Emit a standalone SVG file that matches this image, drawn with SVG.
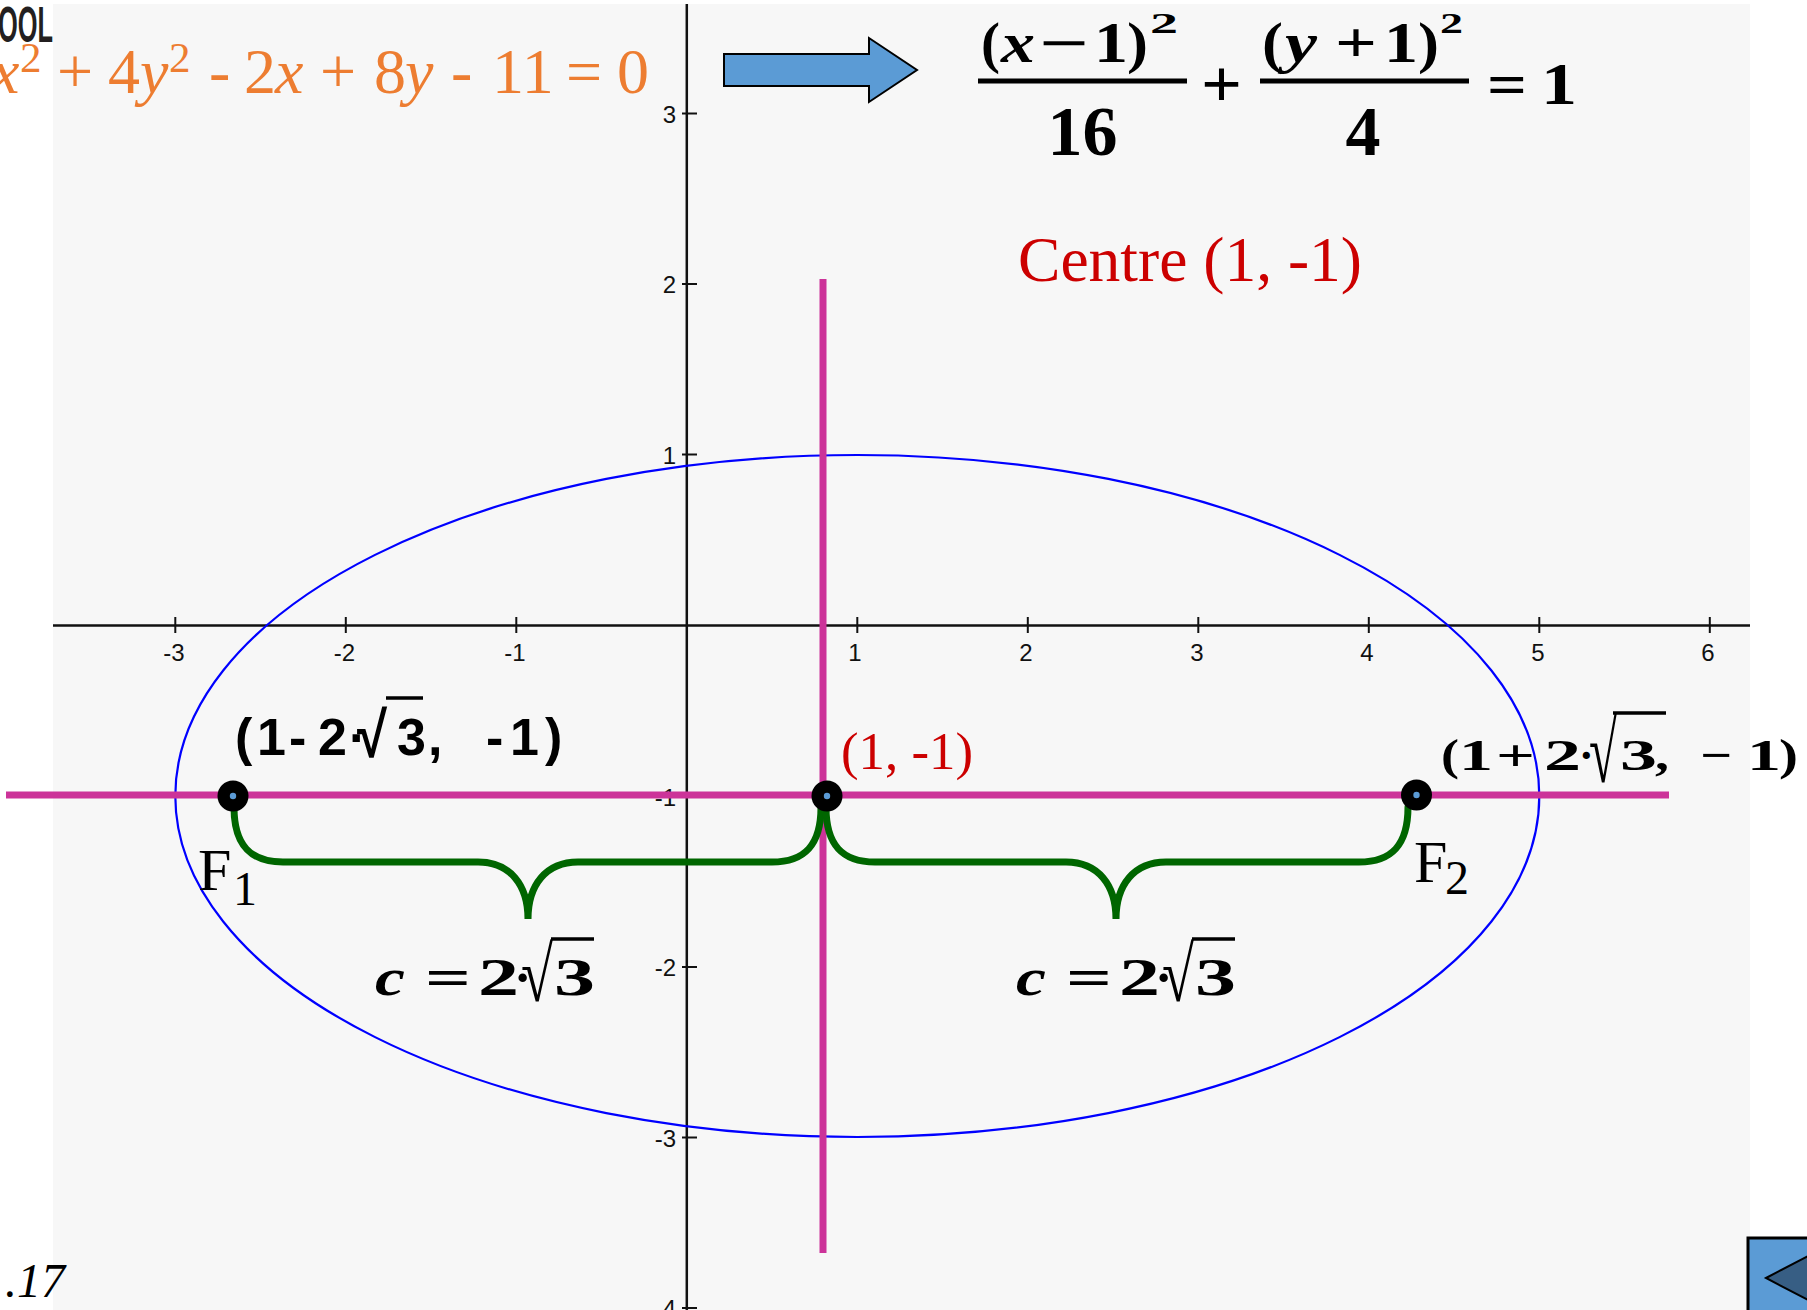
<svg xmlns="http://www.w3.org/2000/svg" width="1807" height="1310" viewBox="0 0 1807 1310">
<style>
.serif{font-family:"Liberation Serif","Times New Roman",serif}
.sans{font-family:"Liberation Sans",Arial,sans-serif}
.b{font-weight:bold}
.i{font-style:italic}
.axis{stroke:#111;stroke-width:2.5}
.tick{stroke:#111;stroke-width:2}
.lab{font-family:"Liberation Sans",Arial,sans-serif;font-size:24px;fill:#111}
.xl{text-anchor:middle}
.yl{text-anchor:end}
.mag{stroke:#CC3399;stroke-width:7}
.brace{fill:none;stroke:#006600;stroke-width:7;stroke-linecap:round}
.bar{fill:#000}
.ovl{stroke:#000;stroke-width:3.5}
</style>
<defs>
<g id="pt"><circle r="15.5" fill="#000"/><circle r="3.2" fill="#5B9BD5"/></g>
</defs>
<rect width="1807" height="1310" fill="#FFFFFF"/>
<rect x="53" y="4" width="1697" height="1306" fill="#F7F7F7"/>

<g id="axes">
<line class="axis" x1="53" y1="625.5" x2="1750" y2="625.5"/>
<line class="axis" x1="686.8" y1="4" x2="686.8" y2="1310"/>
<g class="tick">
<line x1="175.3" y1="617" x2="175.3" y2="633"/><line x1="345.8" y1="617" x2="345.8" y2="633"/><line x1="516.3" y1="617" x2="516.3" y2="633"/>
<line x1="857.3" y1="617" x2="857.3" y2="633"/><line x1="1027.8" y1="617" x2="1027.8" y2="633"/><line x1="1198.3" y1="617" x2="1198.3" y2="633"/>
<line x1="1368.8" y1="617" x2="1368.8" y2="633"/><line x1="1539.3" y1="617" x2="1539.3" y2="633"/><line x1="1709.8" y1="617" x2="1709.8" y2="633"/>
<line x1="682" y1="113.5" x2="697" y2="113.5"/><line x1="682" y1="284" x2="697" y2="284"/><line x1="682" y1="454.5" x2="697" y2="454.5"/>
<line x1="682" y1="796.5" x2="697" y2="796.5"/><line x1="682" y1="967" x2="697" y2="967"/><line x1="682" y1="1137.5" x2="697" y2="1137.5"/><line x1="682" y1="1308" x2="697" y2="1308"/>
</g>
<g class="lab xl">
<text x="174" y="661">-3</text><text x="344.5" y="661">-2</text><text x="515" y="661">-1</text>
<text x="855" y="661">1</text><text x="1026" y="661">2</text><text x="1197" y="661">3</text>
<text x="1367" y="661">4</text><text x="1538" y="661">5</text><text x="1708" y="661">6</text>
</g>
<g class="lab yl">
<text x="676" y="122.5">3</text><text x="676" y="293">2</text><text x="676" y="463.5">1</text>
<text x="676" y="805.5">-1</text><text x="676" y="976">-2</text><text x="676" y="1146.5">-3</text><text x="676" y="1317">-4</text>
</g>
</g>

<g id="ellipse">
<ellipse cx="857.3" cy="796" rx="682" ry="341" fill="none" stroke="#0000FF" stroke-width="2.2"/>
</g>

<g id="axes-of-ellipse">
<line class="mag" x1="6" y1="795" x2="1669" y2="795"/>
<line class="mag" x1="823" y1="279" x2="823" y2="1253"/>
</g>

<g id="connectors">
<path id="brace-left" class="brace" d="M234 807 C234 845 250 862 283 862 L478 862 C510 862 528 885 528 919 C528 885 546 862 578 862 L772 862 C805 862 821 845 821 807"/>
<path id="brace-right" class="brace" d="M826 807 C826 845 842 862 875 862 L1066 862 C1098 862 1116 885 1116 919 C1116 885 1134 862 1166 862 L1359 862 C1392 862 1408 845 1408 807"/>
</g>

<g id="focus-F1">
<use href="#pt" x="233" y="796"/>
<text class="serif" font-size="60" x="198" y="890">F</text>
<text class="serif" font-size="48" x="233" y="905">1</text>
</g>
<g id="centre">
<use href="#pt" x="827" y="796"/>
<text class="serif" font-size="53" fill="#CC0000" x="841" y="769" textLength="132" lengthAdjust="spacingAndGlyphs">(1, -1)</text>
</g>
<g id="focus-F2">
<use href="#pt" x="1416.5" y="795"/>
<text class="serif" font-size="60" x="1414" y="882">F</text>
<text class="serif" font-size="48" x="1445" y="894">2</text>
</g>

<g id="label-F1-coords" class="sans b" font-size="52">
<text y="755"><tspan x="235">(</tspan><tspan x="257">1</tspan><tspan x="289">-</tspan><tspan x="318">2</tspan><tspan x="349">·</tspan><tspan x="397">3</tspan><tspan x="428">,</tspan><tspan x="486">-</tspan><tspan x="510">1</tspan><tspan x="545">)</tspan></text>
<text x="357" y="757" font-size="64" textLength="30" lengthAdjust="spacingAndGlyphs">√</text>
<line class="ovl" x1="386" y1="698" x2="423" y2="698" stroke-width="4"/>
</g>

<g id="label-F2-coords" class="serif b" font-size="44">
<text x="1441" y="770" textLength="18" lengthAdjust="spacingAndGlyphs">(</text>
<text x="1459" y="770" textLength="34" lengthAdjust="spacingAndGlyphs">1</text>
<text x="1496" y="770" textLength="39" lengthAdjust="spacingAndGlyphs">+</text>
<text x="1544" y="770" textLength="37" lengthAdjust="spacingAndGlyphs">2</text>
<text x="1579" y="770">·</text>
<text x="1589" y="782" font-size="88" textLength="28" lengthAdjust="spacingAndGlyphs">√</text>
<line class="ovl" x1="1613" y1="713" x2="1666" y2="713"/>
<text x="1620" y="770" textLength="37" lengthAdjust="spacingAndGlyphs">3</text>
<text x="1655" y="770" textLength="14" lengthAdjust="spacingAndGlyphs">,</text>
<text x="1700" y="770" textLength="32" lengthAdjust="spacingAndGlyphs">−</text>
<text x="1747" y="770" textLength="34" lengthAdjust="spacingAndGlyphs">1</text>
<text x="1779" y="770" textLength="19" lengthAdjust="spacingAndGlyphs">)</text>
</g>

<g id="label-c-left" class="serif b" font-size="52">
<text x="375" y="995" font-style="italic" textLength="30" lengthAdjust="spacingAndGlyphs">c</text>
<text x="425" y="995" textLength="46" lengthAdjust="spacingAndGlyphs">=</text>
<text x="478" y="995" textLength="41" lengthAdjust="spacingAndGlyphs">2</text>
<text x="514" y="995">·</text>
<text x="521" y="1001" font-size="78" textLength="32" lengthAdjust="spacingAndGlyphs">√</text>
<line class="ovl" x1="551" y1="939" x2="594" y2="939"/>
<text x="554" y="995" textLength="41" lengthAdjust="spacingAndGlyphs">3</text>
</g>

<g id="label-c-right" class="serif b" font-size="52">
<text x="1016" y="995" font-style="italic" textLength="30" lengthAdjust="spacingAndGlyphs">c</text>
<text x="1066" y="995" textLength="46" lengthAdjust="spacingAndGlyphs">=</text>
<text x="1119" y="995" textLength="41" lengthAdjust="spacingAndGlyphs">2</text>
<text x="1155" y="995">·</text>
<text x="1162" y="1001" font-size="78" textLength="32" lengthAdjust="spacingAndGlyphs">√</text>
<line class="ovl" x1="1192" y1="939" x2="1235" y2="939"/>
<text x="1195" y="995" textLength="41" lengthAdjust="spacingAndGlyphs">3</text>
</g>

<g id="eq-general">
<text class="serif" font-size="64" fill="#ED7D31"><tspan x="-9" y="93" font-style="italic">x</tspan><tspan x="20" y="72" font-size="43">2</tspan><tspan x="57" y="93">+</tspan><tspan x="108" y="93">4</tspan><tspan x="140" y="93" font-style="italic">y</tspan><tspan x="169" y="72" font-size="43">2</tspan><tspan x="209" y="93">-</tspan><tspan x="244" y="93">2</tspan><tspan x="275" y="93" font-style="italic">x</tspan><tspan x="320" y="93">+</tspan><tspan x="374" y="93">8</tspan><tspan x="405" y="93" font-style="italic">y</tspan><tspan x="451" y="93">-</tspan><tspan x="492" y="93">11</tspan><tspan x="566" y="93">=</tspan><tspan x="617" y="93">0</tspan></text>
</g>

<g id="arrow">
<polygon points="724,54 869,54 869,38 917,70 869,102 869,86 724,86" fill="#5B9BD5" stroke="#000" stroke-width="2"/>
</g>

<g id="eq-standard" class="serif b">
<text x="981" y="62" font-size="56" textLength="19" lengthAdjust="spacingAndGlyphs">(</text>
<text x="1001" y="62" font-size="56" font-style="italic" textLength="34" lengthAdjust="spacingAndGlyphs">x</text>
<text x="1039" y="62" font-size="56" textLength="50" lengthAdjust="spacingAndGlyphs">−</text>
<text x="1094" y="62" font-size="56" textLength="34" lengthAdjust="spacingAndGlyphs">1</text>
<text x="1127" y="62" font-size="56" textLength="21" lengthAdjust="spacingAndGlyphs">)</text>
<text x="1150" y="33" font-size="30" textLength="28" lengthAdjust="spacingAndGlyphs">2</text>
<rect class="bar" x="978" y="78.5" width="209" height="5"/>
<text x="1082.5" y="155" font-size="70" text-anchor="middle">16</text>
<text x="1201" y="107" font-size="68" textLength="41" lengthAdjust="spacingAndGlyphs">+</text>
<text x="1262" y="62" font-size="56" textLength="21" lengthAdjust="spacingAndGlyphs">(</text>
<text x="1285" y="62" font-size="56" font-style="italic" textLength="32" lengthAdjust="spacingAndGlyphs">y</text>
<text x="1335" y="62" font-size="56" textLength="42" lengthAdjust="spacingAndGlyphs">+</text>
<text x="1384" y="62" font-size="56" textLength="34" lengthAdjust="spacingAndGlyphs">1</text>
<text x="1418" y="62" font-size="56" textLength="21" lengthAdjust="spacingAndGlyphs">)</text>
<text x="1440" y="33" font-size="30" textLength="23" lengthAdjust="spacingAndGlyphs">2</text>
<rect class="bar" x="1260" y="78.5" width="209" height="5"/>
<text x="1363" y="155" font-size="70" text-anchor="middle">4</text>
<text x="1487" y="104" font-size="60" textLength="40" lengthAdjust="spacingAndGlyphs">=</text>
<text x="1541" y="104" font-size="60" textLength="36" lengthAdjust="spacingAndGlyphs">1</text>
</g>

<g id="centre-label">
<text class="serif" font-size="64" fill="#CC0000" x="1018" y="281" textLength="344" lengthAdjust="spacingAndGlyphs">Centre (1, -1)</text>
</g>

<g id="corner-texts">
<text class="sans b" font-size="50" fill="#231F20" x="-2" y="42" textLength="55" lengthAdjust="spacingAndGlyphs">OOL</text>
<text class="serif i" font-size="48" fill="#000" x="5" y="1297">.17</text>
</g>

<g id="nav-button">
<rect x="1748" y="1238" width="70" height="80" fill="#5B9BD5" stroke="#000" stroke-width="3"/>
<polygon points="1766,1278 1810,1255 1810,1301" fill="#375E84" stroke="#000" stroke-width="2"/>
</g>
</svg>
